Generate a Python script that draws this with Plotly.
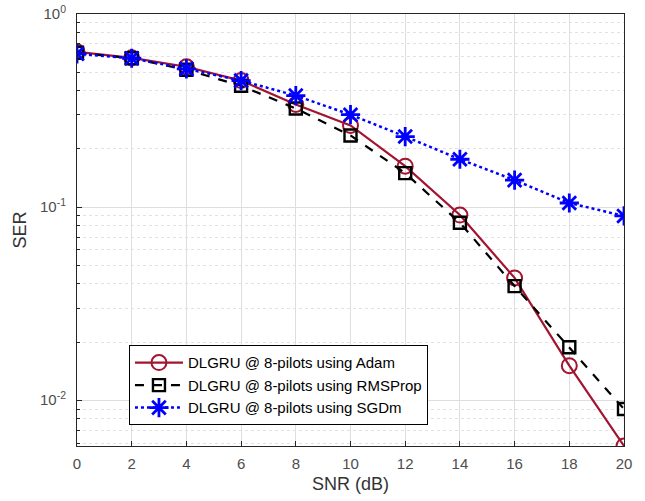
import plotly.graph_objects as go

snr = [0, 2, 4, 6, 8, 10, 12, 14, 16, 18, 20]
ser_adam = [0.637, 0.593, 0.533, 0.452, 0.340, 0.265, 0.163, 0.091, 0.043, 0.0151, 0.0058]
ser_rmsprop = [0.630, 0.590, 0.514, 0.425, 0.324, 0.235, 0.150, 0.083, 0.039, 0.0188, 0.0090]
ser_sgdm = [0.622, 0.590, 0.520, 0.452, 0.378, 0.301, 0.232, 0.177, 0.138, 0.105, 0.090]

names = ["DLGRU @ 8-pilots using Adam",
         "DLGRU @ 8-pilots using RMSProp",
         "DLGRU @ 8-pilots using SGDm"]

y_major = [0.01, 0.1, 1]
y_major_text = ["10<sup>-2</sup>", "10<sup>-1</sup>", "10<sup>0</sup>"]
y_minor = [m * d for d in [0.001, 0.01, 0.1] for m in range(2, 10)]

fig = go.Figure()
fig.add_trace(go.Scatter(
    x=snr, y=ser_adam, name=names[0], mode="lines+markers",
    line=dict(color="#A2142F", width=2.2),
    marker=dict(symbol="circle-open", size=15, color="#A2142F", line=dict(width=2)),
))
fig.add_trace(go.Scatter(
    x=snr, y=ser_rmsprop, name=names[1], mode="lines+markers",
    line=dict(color="black", width=2.2, dash="dash"),
    marker=dict(symbol="square-open", size=12, color="black", line=dict(width=2.4)),
))
fig.add_trace(go.Scatter(
    x=snr, y=ser_sgdm, name=names[2], mode="lines+markers",
    line=dict(color="#0000FF", width=2.5, dash="dot"),
    marker=dict(symbol="asterisk-open", size=16, color="#0000FF", line=dict(width=2.8, color="#0000FF")),
))

tick_font = dict(family="Liberation Sans, Arial, sans-serif", size=15, color="#4D4D4D")

fig.update_layout(
    width=645, height=501,
    margin=dict(l=77, r=21, t=14, b=55),
    paper_bgcolor="white", plot_bgcolor="white",
    font=dict(family="Liberation Sans, Arial, sans-serif", size=15, color="#4D4D4D"),
    showlegend=True,
    legend=dict(
        x=0.095, y=0.233, xanchor="left", yanchor="top",
        bgcolor="white", bordercolor="black", borderwidth=1,
        font=dict(family="Liberation Sans, Arial, sans-serif", size=15, color="black"),
        tracegroupgap=0, itemwidth=48,
    ),
)
fig.update_xaxes(
    range=[0, 20], tickmode="array", tickvals=snr, tickfont=tick_font,
    showgrid=True, gridcolor="#DEDEDE", gridwidth=1,
    showline=True, linecolor="#262626", linewidth=1, mirror=True,
    ticks="inside", ticklen=5, tickcolor="#262626",
    zeroline=False, automargin=False, ticklabelstandoff=4,
    title=dict(text="SNR (dB)", font=dict(size=18, color="#333333"), standoff=6),
)
fig.update_yaxes(
    type="log", range=[-2.237, 0],
    tickmode="array", tickvals=y_major, ticktext=y_major_text, tickfont=tick_font,
    showgrid=True, gridcolor="#DEDEDE", gridwidth=1,
    minor=dict(tickmode="array", tickvals=y_minor, showgrid=True,
               gridcolor="#E2E2E2", griddash="dot", gridwidth=1,
               ticks="inside", ticklen=3, tickcolor="#262626"),
    showline=True, linecolor="#262626", linewidth=1, mirror=True,
    ticks="inside", ticklen=5, tickcolor="#262626",
    zeroline=False, automargin=False, ticklabelstandoff=7,
    title=dict(text="SER", font=dict(size=18, color="#333333"), standoff=8),
)

fig.write_html("out.html", config={"displayModeBar": False},
               post_script="document.body.style.margin='0';")
